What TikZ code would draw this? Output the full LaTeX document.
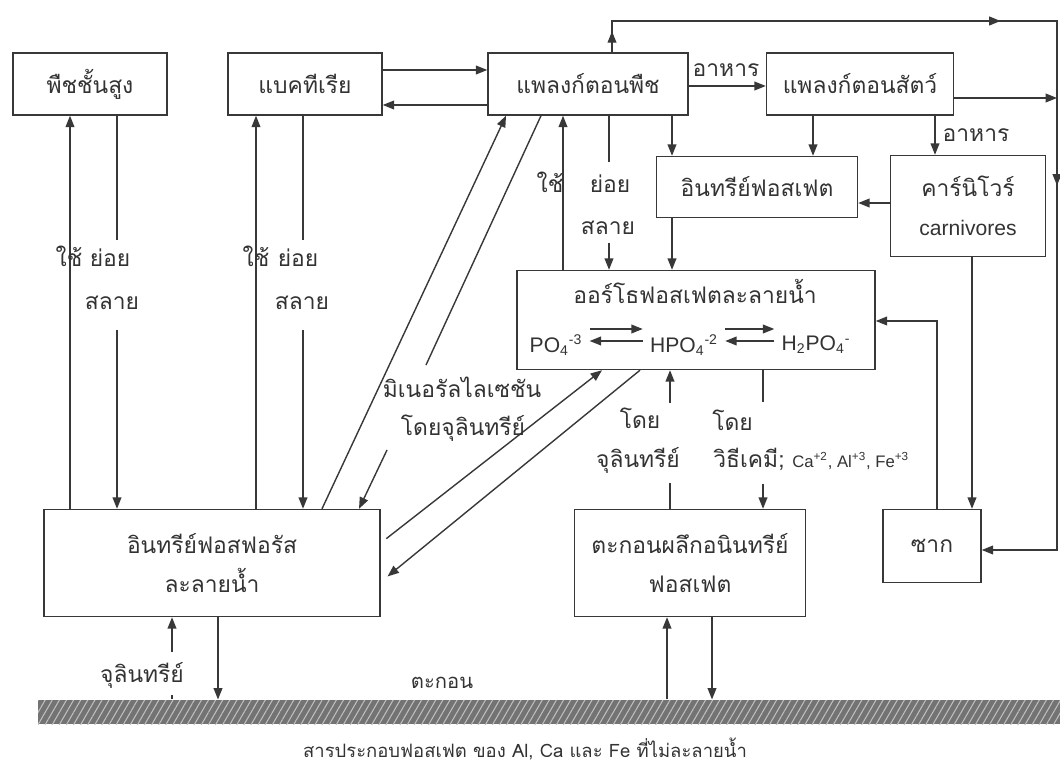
\documentclass[tikz,border=0pt]{standalone}
\usepackage{fontspec}
\setmainfont{Loma}[Script=Thai]
\newfontfamily\lat{Liberation Sans}
\usetikzlibrary{arrows.meta,patterns.meta,decorations.markings}

\newdimen\pxu \pxu=0.02cm
\newcommand\thaitxt{\fontsize{13}{22}\selectfont}

\tikzset{
  hd/.tip={Triangle[length=6.5pt,width=5pt]},
  ink/.style={draw=black!78, line width=0.8pt},
  arr/.style={ink, -hd},
  box/.style={ink, rectangle, inner sep=0pt, align=center, font=\thaitxt, text=black!80},
  lbl/.style={inner sep=0pt, font=\thaitxt, text=black!80, anchor=base},
  chem/.style={inner xsep=4pt, inner ysep=1pt, font=\lat\fontsize{12}{14}\selectfont, text=black!80},
  bar/.style={inner sep=0pt, preaction={fill=black!55},
    pattern={Lines[angle=60,distance=3.5pt,line width=0.6pt]}, pattern color=white!75!black},
}

\begin{document}
\begin{tikzpicture}[x=0.02cm, y=-0.02cm]
  \useasboundingbox (0,0) rectangle (1060,766);

  \node[box, minimum width=154\pxu, minimum height=62\pxu] (hp) at (90,84) {พืชชั้นสูง};
  \node[box, minimum width=154\pxu, minimum height=62\pxu] (bac) at (305,84) {แบคทีเรีย};
  \node[box, minimum width=200\pxu, minimum height=62\pxu] (pp) at (588,84) {แพลงก์ตอนพืช};
  \node[box, minimum width=187\pxu, minimum height=62\pxu] (zp) at (860,84) {แพลงก์ตอนสัตว์};
  \node[box, minimum width=201\pxu, minimum height=61\pxu] (op) at (757,187) {อินทรีย์ฟอสเฟต};
  \node[box, minimum width=155\pxu, minimum height=101\pxu] (cv) at (968,206)
    {คาร์นิโวร์\\{\lat\fontsize{12}{14}\selectfont carnivores}};
  \node[box, minimum width=358\pxu, minimum height=99\pxu] (ortho) at (696,320) {};
  \node[box, minimum width=336\pxu, minimum height=107\pxu] (ip) at (212,563) {อินทรีย์ฟอสฟอรัส\\ละลายน้ำ};
  \node[box, minimum width=231\pxu, minimum height=107\pxu] (cry) at (690,563) {ตะกอนผลึกอนินทรีย์\\ฟอสเฟต};
  \node[box, minimum width=98\pxu, minimum height=73\pxu] (der) at (932,546) {ซาก};
  \node[bar, minimum width=1022\pxu, minimum height=24\pxu] (bar) at (549,712) {};

  \node[lbl] (ot) at (695,304) {ออร์โธฟอสเฟตละลายน้ำ};
  \node[chem] (po) at (556,345) {PO\textsubscript{4}\textsuperscript{-3}};
  \node[chem] (hpo) at (684,345) {HPO\textsubscript{4}\textsuperscript{-2}};
  \node[chem] (hhpo) at (816,345) {H\textsubscript{2}PO\textsubscript{4}\textsuperscript{-}};
  \draw[arr] (po.east |- 0,329) -- (hpo.west |- 0,329);
  \draw[arr] (hpo.west |- 0,341) -- (po.east |- 0,341);
  \draw[arr] (hpo.east |- 0,329) -- (hhpo.west |- 0,329);
  \draw[arr] (hhpo.west |- 0,341) -- (hpo.east |- 0,341);

  \coordinate (tl) at (612,21);
  \coordinate (tr) at (1057,21);
  \coordinate (br) at (1057,550);
  \draw[arr, postaction={decorate}, decoration={markings,
      mark=at position 0.42cm with {\arrow{hd}},
      mark=at position 8.4cm with {\arrow{hd}},
      mark=at position 12.82cm with {\arrow{hd}}}]
    (pp.north -| tl) -- (tl) -- (tr) -- (br) -- (der.east |- br);

  \draw[arr] (bac.east |- 0,70) -- (pp.west |- 0,70);
  \draw[arr] (pp.west |- 0,105) -- (bac.east |- 0,105);
  \draw[arr] (pp.east |- 0,86) -- (zp.west |- 0,86);
  \draw[arr] (zp.east |- 0,98) -- (tr |- 0,98);
  \draw[arr] (pp.south -| 672,0) -- (op.north -| 672,0);
  \draw[arr] (zp.south -| 813,0) -- (op.north -| 813,0);
  \draw[arr] (zp.south -| 935,0) -- (cv.north -| 935,0);
  \draw[arr] (cv.west |- 0,203) -- (op.east |- 0,203);
  \draw[arr] (cv.south -| 972,0) -- (der.north -| 972,0);
  \draw[arr] (der.north -| 937,0) |- (ortho.east |- 0,321);
  \draw[arr] (op.south -| 672,0) -- (ortho.north -| 672,0);

  \draw[arr] (ortho.north -| 563,0) -- (pp.south -| 563,0);
  \coordinate (g1) at (609,162);
  \coordinate (g2) at (609,243);
  \draw[ink] (pp.south -| g1) -- (g1);
  \draw[arr] (g2) -- (ortho.north -| g2);

  \draw[arr] (ip.north -| 70,0) -- (hp.south -| 70,0);
  \coordinate (g3) at (117,240);
  \coordinate (g4) at (117,330);
  \draw[ink] (hp.south -| g3) -- (g3);
  \draw[arr] (g4) -- (ip.north -| g4);

  \draw[arr] (ip.north -| 256,0) -- (bac.south -| 256,0);
  \coordinate (g5) at (303,240);
  \coordinate (g6) at (303,330);
  \draw[ink] (bac.south -| g5) -- (g5);
  \draw[arr] (g6) -- (ip.north -| g6);

  \draw[arr] (ip.north -| 322,0) -- (pp.south -| 506,0);
  \coordinate (m1) at (426,365);
  \coordinate (m2) at (387,450);
  \draw[ink] (pp.south -| 541,0) -- (m1);
  \draw[arr] (m2) -- (ip.north -| 359,0);
  \draw[arr, shorten <=4pt] (ip.east |- 0,543) -- (ortho.south -| 602,0);
  \draw[arr, shorten >=5pt] (ortho.south -| 640,0) -- (ip.east |- 0,582);

  \coordinate (g7) at (670,483);
  \coordinate (g8) at (670,403);
  \draw[ink] (cry.north -| g7) -- (g7);
  \draw[arr] (g8) -- (ortho.south -| g8);
  \coordinate (g9) at (763,402);
  \coordinate (g10) at (763,484);
  \draw[ink] (ortho.south -| g9) -- (g9);
  \draw[arr] (g10) -- (cry.north -| g10);

  \coordinate (g11) at (172,652);
  \draw[ink] (bar.north -| g11) -- ++(0,-4);
  \draw[arr] (g11) -- (ip.south -| g11);
  \draw[arr] (ip.south -| 218,0) -- (bar.north -| 218,0);
  \draw[arr] (bar.north -| 667,0) -- (cry.south -| 667,0);
  \draw[arr] (cry.south -| 712,0) -- (bar.north -| 712,0);

  \node[lbl] (u1) at (69,267) {ใช้};
  \node[lbl] (y1) at (110,267) {ย่อย};
  \node[lbl] (s1) at (112,310) {สลาย};
  \node[lbl] (u2) at (256,267) {ใช้};
  \node[lbl] (y2) at (298,267) {ย่อย};
  \node[lbl] (s2) at (302,310) {สลาย};
  \node[lbl] (u3) at (550,193) {ใช้};
  \node[lbl] (y3) at (610,193) {ย่อย};
  \node[lbl] (s3) at (608,235) {สลาย};
  \node[lbl] (f1) at (726,77) {อาหาร};
  \node[lbl] (f2) at (976,142) {อาหาร};
  \node[lbl] (mn1) at (462,397) {มิเนอรัลไลเซชัน};
  \node[lbl] (mn2) at (463,435) {โดยจุลินทรีย์};
  \node[lbl] (b1) at (640,428) {โดย};
  \node[lbl] (b2) at (638,467) {จุลินทรีย์};
  \node[lbl, anchor=base west] (c1) at (712,430) {โดย};
  \node[lbl, anchor=base west] (c2) at (713,467)
    {วิธีเคมี; {\lat\fontsize{9.5}{11}\selectfont Ca\textsuperscript{+2}, Al\textsuperscript{+3}, Fe\textsuperscript{+3}}};
  \node[lbl] (b3) at (142,682) {จุลินทรีย์};
  \node[lbl, font=\fontsize{11.5}{14}\selectfont] (sed) at (442,688) {ตะกอน};
  \node[lbl, font=\fontsize{10.5}{13}\selectfont] (cap) at (525,757) {สารประกอบฟอสเฟต ของ Al, Ca และ Fe ที่ไม่ละลายน้ำ};
\end{tikzpicture}
\end{document}
